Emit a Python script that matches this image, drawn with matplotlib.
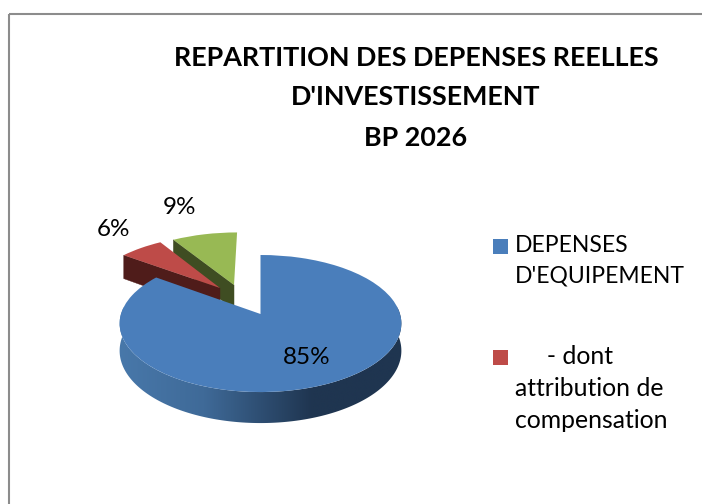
import numpy as np
import matplotlib
matplotlib.use("Agg")
import matplotlib.pyplot as plt
from matplotlib.colors import LinearSegmentedColormap
from matplotlib.patches import Polygon, Rectangle
from matplotlib.transforms import Transform

title_lines = ["REPARTITION DES DEPENSES REELLES", "D'INVESTISSEMENT", "BP 2026"]
values = [85, 6, 9]
legend_labels = [["DEPENSES", "D'EQUIPEMENT"], ["     - dont", "attribution de", "compensation"]]
face_colors = ["#4a7ebb", "#be4b48", "#98b954"]
side_colors = ["#1f3550", "#4f1c1a", "#3f4d22"]
slice_offsets = [(0, 0), (-0.307, 0.409), (-0.202, 0.46)]
label_pos = [(307, 357), (113, 229), (180, 208)]

CX, CY, RX, RY, K, DEPTH = 260.5, 314, 139.5, 67.2, 0.139, 26.7
FONT = "Lato"


class Perspective(Transform):
    input_dims = output_dims = 2
    is_separable = False

    def transform_non_affine(self, xy):
        xy = np.asarray(xy, float)
        w = 1 + K * xy[:, 1]
        return np.column_stack([CX + RX * xy[:, 0] / w, CY - RY * xy[:, 1] / w])


persp = Perspective()
fig = plt.figure(figsize=(7.02, 5.04), dpi=100)
ax = fig.add_axes([0, 0, 1, 1])

wedges, _ = ax.pie(values, colors=face_colors, startangle=90, counterclock=False)
z_order = [7, 5, 3]


def project_with_depth(pts):
    p = persp.transform_non_affine(pts)
    q = p.copy()
    q[:, 1] += DEPTH / (1 + K * pts[:, 1])
    return p, q


for w, off, side, z in zip(wedges, slice_offsets, side_colors, z_order):
    w.set_center(off)
    w.set_radius(1)
    w.set_transform(persp + ax.transData)
    w.set_linewidth(0)
    w.set_zorder(z)
    if off != (0, 0):
        t = np.radians(w.theta2)
        pts = np.array([off, (off[0] + np.cos(t), off[1] + np.sin(t))])
        p, q = project_with_depth(pts)
        ax.add_patch(Polygon(np.vstack([p, q[::-1]]), closed=True, fc=side, ec=side, lw=0.3,
                             zorder=z - 1))

# Outer rim of the large slice, shaded from left to right
blue = wedges[0]
th = np.radians(np.linspace(max(blue.theta1, -186), min(blue.theta2, 6), 200))
rim = np.column_stack([np.cos(th), np.sin(th)])
p, q = project_with_depth(rim)
rim_patch = Polygon(np.vstack([p, q[::-1]]), closed=True, fc="none", ec="none",
                    transform=ax.transData)
ax.add_patch(rim_patch)
cmap = LinearSegmentedColormap.from_list(
    "rim", [(0, "#4878aa"), (0.3, "#3f6a98"), (0.68, "#1f3550"), (1, "#1f3550")])
img = ax.imshow(np.linspace(0, 1, 256)[None, :], cmap=cmap, aspect="auto",
                extent=(118, 404, 440, 300), zorder=6)
img.set_clip_path(rim_patch)

# Chart area border (open to the right and bottom of the crop)
ax.add_patch(Rectangle((8.5, 13.5), 900, 700, fc="none", ec="#8c8c8c", lw=1.5, zorder=1))

for (x, y), v in zip(label_pos, values):
    ax.text(x, y, f"{v}%", ha="center", va="center", fontsize=17.5, family=FONT,
            color="#000000", zorder=10)

for i, line in enumerate(title_lines):
    ax.text(416, [58, 97, 138][i], line, ha="center", va="center", fontsize=19.4,
            fontweight="bold", family=FONT, color="#000000")

legend_y = [[246, 276], [357, 389, 421]]
legend_sizes = [16.5, 17.8]
for lines, ys, c, fs in zip(legend_labels, legend_y, face_colors, legend_sizes):
    ax.add_patch(Rectangle((493, ys[0] - 7.5), 15, 15, fc=c, ec="none"))
    for line, y in zip(lines, ys):
        ax.text(515, y, line, ha="left", va="center", fontsize=fs, family=FONT, color="#000000")

ax.set_aspect("auto")
ax.set_xlim(0, 702)
ax.set_ylim(504, 0)
ax.axis("off")
fig.savefig("out.png", dpi=100, facecolor="white")
